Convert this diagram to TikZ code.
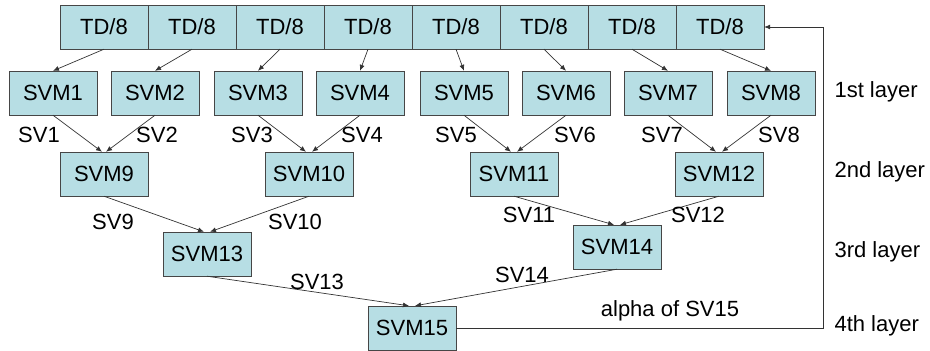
\documentclass[tikz,border=0pt]{standalone}
\usepackage{fontspec}
\setmainfont{Liberation Sans}
\usepackage{tikz}
\usetikzlibrary{arrows.meta}
\definecolor{boxcyan}{RGB}{183, 222, 228}
\definecolor{boxline}{RGB}{70, 70, 70}
\tikzset{>={Latex[length=6pt,width=5pt]}}

\begin{document}
\begin{tikzpicture}[x = 1pt, y = -1pt, font = \fontsize{22}{26}\selectfont,
  svmbox/.style = {draw = boxline, fill = boxcyan, minimum width = 88pt, minimum height = 44pt, inner sep = 0pt},
  link/.style = {->, draw = black!80, line width = 0.7pt}]
\useasboundingbox (0,0) rectangle (930,351);
% training data split in eight parts
\foreach \i in {1,...,8}
  \node[svmbox] (td\i) at ({16+88*\i}, 27) {TD/8};
% 1st layer
\foreach \i/\x in {1/53, 2/155, 3/258, 4/360, 5/464, 6/566, 7/668, 8/771}
  \node[svmbox] (svm\i) at (\x, 93) {SVM\i};
% 2nd layer
\node[svmbox] (svm9) at (104, 174) {SVM9};
\node[svmbox] (svm10) at (309, 174) {SVM10};
\node[svmbox] (svm11) at (514, 174) {SVM11};
\node[svmbox] (svm12) at (719, 174) {SVM12};
% 3rd and 4th layer
\node[svmbox] (svm13) at (207, 254) {SVM13};
\node[svmbox] (svm14) at (617, 247) {SVM14};
\node[svmbox] (svm15) at (412, 328) {SVM15};
% arrows from the data
\foreach \i in {1,...,8}
  \draw[link] (td\i.south) -- (svm\i.north);
% arrows between layers
\draw[link] (svm1.south) -- ([xshift=-2pt]svm9.north);
\draw[link] (svm2.south) -- ([xshift=2pt]svm9.north);
\draw[link] (svm3.south) -- ([xshift=-3pt]svm10.north);
\draw[link] (svm4.south) -- ([xshift=3pt]svm10.north);
\draw[link] (svm5.south) -- ([xshift=-3pt]svm11.north);
\draw[link] (svm6.south) -- ([xshift=3pt]svm11.north);
\draw[link] (svm7.south) -- ([xshift=-3pt]svm12.north);
\draw[link] (svm8.south) -- ([xshift=3pt]svm12.north);
\draw[link] (svm9.south) -- ([xshift=-3pt]svm13.north);
\draw[link] (svm10.south) -- ([xshift=3pt]svm13.north);
\draw[link] (svm11.south) -- ([xshift=-3pt]svm14.north);
\draw[link] (svm12.south) -- ([xshift=3pt]svm14.north);
\draw[link] (svm13.south) -- ([xshift=-3pt]svm15.north);
\draw[link] (svm14.south) -- ([xshift=3pt]svm15.north);
% feedback of the alphas
\coordinate (back) at (823, 328);
\draw[link] (svm15.east) -- (back) |- (td8.east);
\node (alpha) at (670, 311) {alpha of SV15};
% support vector labels
\foreach \i/\x in {1/39, 2/157, 3/252, 4/362, 5/456, 6/575, 7/662, 8/779}
  \node (sv\i) at (\x, 135) {SV\i};
\node (sv9) at (113, 222) {SV9};
\node (sv10) at (295, 222) {SV10};
\node (sv11) at (529, 215) {SV11};
\node (sv12) at (698, 215) {SV12};
\node (sv13) at (317, 282) {SV13};
\node (sv14) at (522, 275) {SV14};
% layer names
\node[anchor = west] (lay1) at (831, 92) {1st layer};
\node[anchor = west] (lay2) at (831, 172) {2nd layer};
\node[anchor = west] (lay3) at (831, 252) {3rd layer};
\node[anchor = west] (lay4) at (831, 326) {4th layer};
\end{tikzpicture}
\end{document}
